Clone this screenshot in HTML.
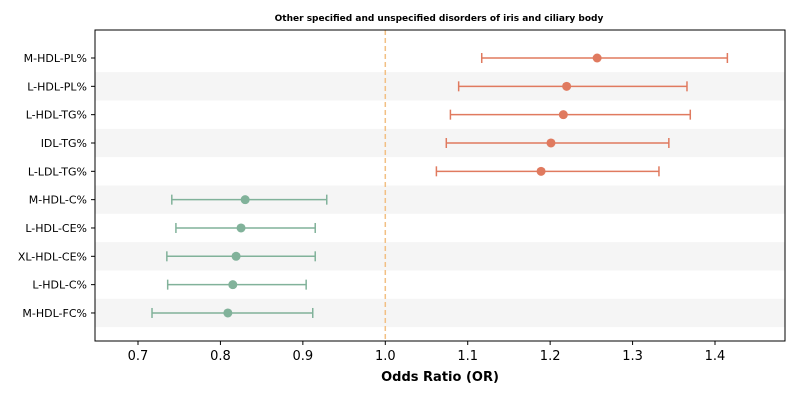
<!DOCTYPE html>
<html><head><meta charset="utf-8"><style>
body{margin:0;background:#fff;font-family:"Liberation Sans","DejaVu Sans",sans-serif}
svg text{font-family:"DejaVu Sans","Liberation Sans",sans-serif}
</style></head><body>
<svg id="chart" width="800" height="400" xmlns="http://www.w3.org/2000/svg">
<text x="439" y="21" font-size="9" font-weight="bold" text-anchor="middle">Other specified and unspecified disorders of iris and ciliary body</text>
<g id="bands"></g><g id="marks"></g><g id="axes"></g>
<text x="440" y="381" font-size="13" font-weight="bold" text-anchor="middle">Odds Ratio (OR)</text>
</svg>
<script>
const categories=["M-HDL-PL%","L-HDL-PL%","L-HDL-TG%","IDL-TG%","L-LDL-TG%","M-HDL-C%","L-HDL-CE%","XL-HDL-CE%","L-HDL-C%","M-HDL-FC%"];
const orValues=[1.257,1.220,1.216,1.201,1.189,0.830,0.825,0.819,0.815,0.809];
const lowerCI=[1.117,1.089,1.079,1.074,1.062,0.741,0.746,0.735,0.736,0.717];
const upperCI=[1.415,1.366,1.370,1.344,1.332,0.929,0.915,0.915,0.904,0.912];
const xTicks=[0.7,0.8,0.9,1.0,1.1,1.2,1.3,1.4];
const NS="http://www.w3.org/2000/svg";
const L=95,R=785,T=30,B=341;
const x=v=>138+(v-0.7)*824.3;
const y=i=>58+i*28.33;
function mk(tag,attrs,parent){const e=document.createElementNS(NS,tag);for(const k in attrs)e.setAttribute(k,attrs[k]);document.getElementById(parent).appendChild(e);return e;}
categories.forEach((c,i)=>{
 if(i%2===1){const b=mk("rect",{x:L,y:y(i)-14.17,width:R-L,height:28.33,fill:"#f5f5f5"},"bands");
 
 }
});
const ref=mk("line",{x1:x(1),x2:x(1),y1:T,y2:B,stroke:"#f2c084","stroke-width":1.5,"stroke-dasharray":"5,3"},"marks");


categories.forEach((c,i)=>{
 const col=orValues[i]>1?"#e07a5f":"#81b29a";
 const g=mk("g",{},"marks");
 
 
 const yy=y(i);
 [["line",{x1:x(lowerCI[i]),x2:x(upperCI[i]),y1:yy,y2:yy}],["line",{x1:x(lowerCI[i]),x2:x(lowerCI[i]),y1:yy-5,y2:yy+5}],["line",{x1:x(upperCI[i]),x2:x(upperCI[i]),y1:yy-5,y2:yy+5}]].forEach(([t,a])=>{a.stroke=col;a["stroke-width"]=1.5;const e=document.createElementNS(NS,t);for(const k in a)e.setAttribute(k,a[k]);g.appendChild(e);});
 const cc=document.createElementNS(NS,"circle");cc.setAttribute("cx",x(orValues[i]));cc.setAttribute("cy",yy);cc.setAttribute("r",4.5);cc.setAttribute("fill",col);g.appendChild(cc);
 const t=mk("text",{x:L-8,y:yy+4,"font-size":11,"text-anchor":"end"},"axes");t.textContent=c;
 
 
 mk("line",{x1:L-4,x2:L,y1:yy,y2:yy,stroke:"#000"},"axes");
});
const frame=mk("rect",{x:L,y:T,width:R-L,height:B-T,fill:"none",stroke:"#000","stroke-width":1},"axes");


xTicks.forEach(v=>{
 mk("line",{x1:x(v),x2:x(v),y1:B,y2:B+4,stroke:"#000"},"axes");
 const t=mk("text",{x:x(v),y:B+19,"font-size":13,"text-anchor":"middle"},"axes");t.textContent=v.toFixed(1);
 
 
});
</script>
</body></html>
